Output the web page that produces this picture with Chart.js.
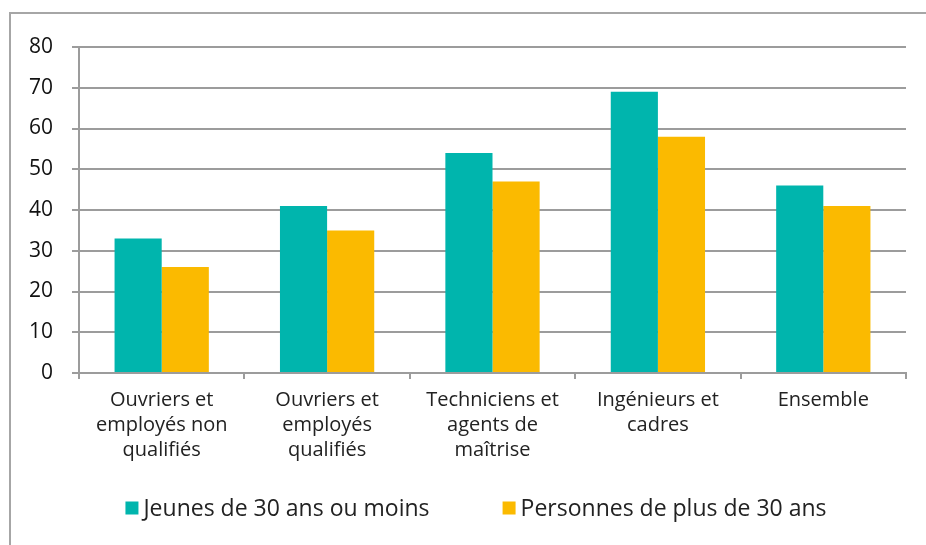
<!DOCTYPE html>
<html>
<head>
<meta charset="utf-8">
<script src="https://cdn.jsdelivr.net/npm/chart.js@4"></script>
<style>
  html,body{margin:0;padding:0;background:#fff;}
  #wrap{position:relative;width:926px;height:545px;}
  #frame{position:absolute;left:9px;top:12px;right:-2px;bottom:-2px;border-top:2px solid #a6a6a6;border-left:2px solid #a6a6a6;}
  canvas{position:absolute;left:0;top:0;}
</style>
</head>
<body>
<div id="wrap">
  <div id="frame"></div>
  <canvas id="chart" width="926" height="545"></canvas>
</div>
<script>
/* ===========================
   DATA
=========================== */
const categories = [
    ["Ouvriers et","employés non","qualifiés"],
    ["Ouvriers et","employés","qualifiés"],
    ["Techniciens et","agents de","maîtrise"],
    ["Ingénieurs et","cadres"],
    ["Ensemble"]
];
const jeunes = [33, 41, 54, 69, 46];
const plus30 = [26, 35, 47, 58, 41];
const seriesNames = ["Jeunes de 30 ans ou moins", "Personnes de plus de 30 ans"];
const yTicks = [0, 10, 20, 30, 40, 50, 60, 70, 80];

const TEAL = "#00B5AD";
const GOLD = "#FBBA00";
const GRID = "#9c9c9c";

/* ===========================
   LEGEND (custom, drawn on canvas)
=========================== */
const bottomLegend = {
    id:"bottomLegend",
    afterDraw(chart){
        const ctx = chart.ctx;
        const sets = chart.data.datasets;
        ctx.save();
        ctx.font = "23px 'Open Sans'";
        ctx.textBaseline = "middle";
        const box = 13, gapText = 5, gapItem = 73;
        let total = 0;
        sets.forEach((d,i)=>{
            total += box + gapText + ctx.measureText(d.label).width;
            if(i < sets.length - 1) total += gapItem;
        });
        let x = 476 - total / 2;
        const y = 508;
        sets.forEach(d=>{
            ctx.fillStyle = d.backgroundColor;
            ctx.fillRect(x, y - box / 2, box, box);
            x += box + gapText;
            ctx.fillStyle = "#222";
            ctx.fillText(d.label, x, y + 1);
            x += ctx.measureText(d.label).width + gapItem;
        });
        ctx.restore();
    }
};

new Chart(document.getElementById("chart"),{

    type:"bar",

    data:{
        labels:categories,
        datasets:[
            {
                label:seriesNames[0],
                data:jeunes,
                backgroundColor:TEAL
            },
            {
                label:seriesNames[1],
                data:plus30,
                backgroundColor:GOLD
            }
        ]
    },

    options:{
        responsive:false,
        animation:false,
        events:[],
        categoryPercentage:0.57,
        barPercentage:1,
        layout:{
            padding:{ top:47, right:20, bottom:58, left:0 }
        },
        plugins:{
            legend:{ display:false },
            tooltip:{ enabled:false }
        },
        scales:{
            x:{
                grid:{
                    offset:true,
                    drawOnChartArea:false,
                    tickLength:6,
                    color:GRID,
                    lineWidth:2
                },
                border:{ color:GRID, width:2 },
                ticks:{
                    color:"#222",
                    font:{ family:"Open Sans", size:20, lineHeight:"25px" },
                    padding:9,
                    maxRotation:0,
                    autoSkip:false
                },
                afterFit(scale){ scale.height = 114; }
            },
            y:{
                min:0,
                max:80,
                afterBuildTicks(scale){
                    scale.ticks = yTicks.map(v=>({ value:v }));
                },
                grid:{
                    color:GRID,
                    lineWidth:2,
                    tickLength:7
                },
                border:{ color:GRID, width:2 },
                ticks:{
                    color:"#111",
                    font:{ family:"Open Sans", size:21 },
                    padding:19
                },
                afterFit(scale){ scale.width = 79; }
            }
        }
    },

    plugins:[bottomLegend]

});
</script>
</body>
</html>
